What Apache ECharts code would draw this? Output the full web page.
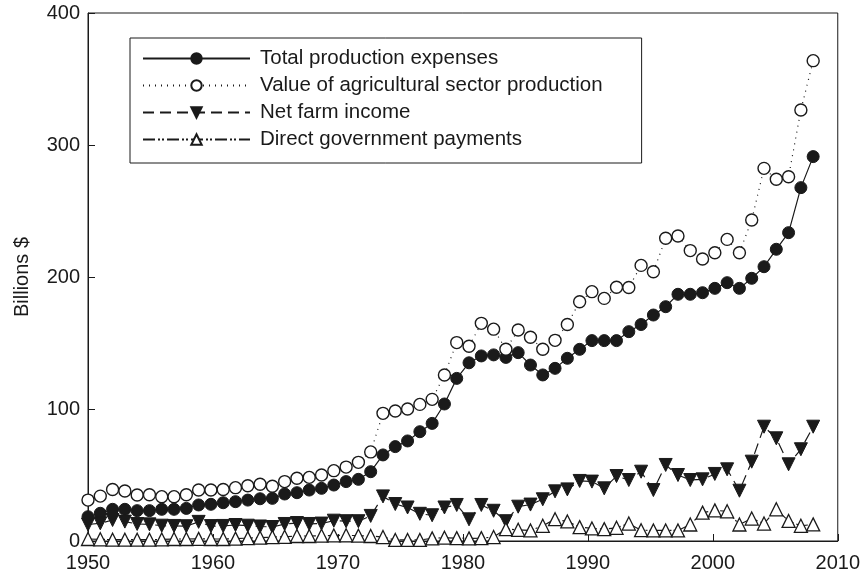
<!DOCTYPE html>
<html>
<head>
<meta charset="utf-8">
<script src="https://cdn.jsdelivr.net/npm/echarts@6/dist/echarts.min.js"></script>
<style>
  html, body { margin: 0; padding: 0; background: #fff; }
  #chart { width: 863px; height: 575px; }
</style>
</head>
<body>
<div id="chart"></div>
<script>
// years plotted (first point sits on the left axis)
const years = [
  1949, 1950, 1951, 1952, 1953, 1954, 1955, 1956, 1957, 1958,
  1959, 1960, 1961, 1962, 1963, 1964, 1965, 1966, 1967, 1968,
  1969, 1970, 1971, 1972, 1973, 1974, 1975, 1976, 1977, 1978,
  1979, 1980, 1981, 1982, 1983, 1984, 1985, 1986, 1987, 1988,
  1989, 1990, 1991, 1992, 1993, 1994, 1995, 1996, 1997, 1998,
  1999, 2000, 2001, 2002, 2003, 2004, 2005, 2006, 2007, 2008
];

// billions of dollars
const expenses = [
  18.4, 21.0, 24.0, 24.0, 23.0, 23.0, 24.0, 24.0, 24.7, 27.3,
  27.8, 29.0, 29.8, 31.0, 32.0, 32.3, 35.6, 36.6, 38.6, 39.9,
  42.4, 45.0, 46.7, 52.5, 65.2, 71.5, 75.8, 82.8, 89.1, 103.8,
  123.2, 135.0, 140.2, 141.0, 139.1, 142.7, 133.3, 125.8, 130.8, 138.4,
  145.2, 151.8, 151.8, 151.8, 158.6, 164.0, 171.2, 177.5, 186.9, 186.9,
  188.1, 191.4, 195.7, 191.4, 199.0, 207.8, 221.0, 233.6, 267.7, 291.2
];

const production = [
  31.0, 34.0, 39.0, 37.9, 34.8, 35.0, 33.6, 33.6, 35.0, 38.6,
  38.6, 39.0, 40.4, 41.9, 43.0, 41.5, 45.0, 47.5, 48.2, 50.0,
  53.3, 56.0, 59.6, 67.5, 96.7, 98.5, 100.0, 103.5, 107.3, 125.8,
  150.3, 147.5, 164.9, 160.5, 145.3, 159.8, 154.3, 145.3, 152.0, 164.0,
  181.3, 188.9, 183.8, 192.2, 192.0, 208.8, 204.0, 229.3, 231.1, 220.0,
  213.6, 218.4, 228.5, 218.4, 243.2, 282.3, 274.0, 276.0, 326.5, 363.9
];

const netIncome = [
  12.5, 13.4, 15.9, 14.7, 12.9, 12.6, 11.6, 11.4, 11.2, 14.5,
  11.3, 11.4, 12.1, 11.6, 11.0, 10.6, 12.9, 13.6, 12.9, 13.2,
  15.4, 15.0, 15.0, 19.0, 33.8, 28.0, 25.4, 20.6, 19.5, 25.4,
  27.3, 16.4, 27.3, 22.9, 15.0, 26.0, 27.6, 31.6, 37.6, 39.1,
  45.5, 45.0, 39.9, 49.2, 46.2, 52.5, 38.6, 57.6, 50.0, 46.2,
  46.7, 50.8, 54.3, 38.1, 60.1, 86.6, 77.8, 58.1, 69.5, 86.6
];

const govPayments = [
  1.5, 1.3, 1.0, 1.0, 1.0, 1.0, 1.2, 1.5, 1.5, 1.6,
  1.5, 1.5, 1.8, 2.2, 2.5, 3.0, 3.2, 3.8, 3.8, 4.0,
  4.2, 4.3, 4.0, 3.8, 3.0, 0.8, 0.8, 0.8, 2.0, 2.5,
  2.2, 2.0, 2.2, 3.0, 9.0, 8.5, 8.0, 11.5, 16.5, 14.8,
  10.5, 9.5, 9.0, 10.0, 13.2, 8.2, 8.0, 8.0, 8.0, 12.5,
  21.5, 23.2, 22.5, 12.5, 17.0, 13.2, 24.0, 15.2, 11.5, 12.6
];

const seriesNames = [
  'Total production expenses',
  'Value of agricultural sector production',
  'Net farm income',
  'Direct government payments'
];

const font = 'Liberation Sans, Arial, Helvetica, sans-serif';
const ink = '#1a1a1a';

function pairs(vals) {
  return years.map((y, i) => [y, vals[i]]);
}

let chart = echarts.init(document.getElementById('chart'), null, { renderer: 'canvas' });

let options = {
  backgroundColor: '#ffffff',
  animation: false,
  textStyle: { fontFamily: font, color: ink },
  grid: {
    left: 88, right: 25, top: 13, bottom: 34,
    show: true, borderColor: ink, borderWidth: 1
  },
  legend: {
    data: seriesNames,
    orient: 'vertical',
    left: 130, top: 38,
    itemWidth: 107, itemHeight: 13, itemGap: 6,
    padding: [10, 39, 13, 12],
    borderColor: ink, borderWidth: 1,
    backgroundColor: '#fff',
    textStyle: { fontFamily: font, fontSize: 20.5, color: ink, padding: [0, 0, 0, 5] }
  },
  xAxis: [
    {
      // scale the points are placed on (the source plots 1949 on the frame)
      type: 'value',
      min: 1949, max: 2010,
      show: false
    },
    {
      // printed year axis
      type: 'value',
      min: 1950, max: 2010, interval: 10,
      position: 'bottom',
      axisLine: { show: true, lineStyle: { color: ink, width: 1 } },
      axisTick: { show: true, inside: true, length: 7, lineStyle: { color: ink } },
      axisLabel: {
        fontSize: 20, color: ink, margin: 12, fontFamily: font,
        formatter: (v) => String(v)
      },
      splitLine: { show: false }
    }
  ],
  yAxis: {
    type: 'value',
    min: 0, max: 400, interval: 100,
    name: 'Billions $',
    nameLocation: 'middle',
    nameGap: 56,
    nameTextStyle: { fontSize: 20, color: ink, fontFamily: font },
    axisLine: { show: true, lineStyle: { color: ink, width: 1 } },
    axisTick: { show: true, inside: true, length: 7, lineStyle: { color: ink } },
    axisLabel: { fontSize: 20, color: ink, margin: 8, fontFamily: font },
    splitLine: { show: false }
  },
  series: [
    {
      name: seriesNames[0],
      type: 'line',
      xAxisIndex: 0,
      data: pairs(expenses),
      symbol: 'circle', symbolSize: 12,
      lineStyle: { color: ink, width: 1.2, type: 'solid' },
      itemStyle: { color: ink, borderColor: ink, borderWidth: 1 }
    },
    {
      name: seriesNames[1],
      type: 'line',
      xAxisIndex: 0,
      data: pairs(production),
      symbol: 'circle', symbolSize: 12,
      lineStyle: { color: ink, width: 1.2, type: [1, 5] },
      itemStyle: { color: '#fff', borderColor: ink, borderWidth: 1.4 }
    },
    {
      name: seriesNames[2],
      type: 'line',
      xAxisIndex: 0,
      data: pairs(netIncome),
      symbol: 'triangle', symbolSize: 13, symbolRotate: 180,
      lineStyle: { color: ink, width: 1.2, type: [11, 6] },
      itemStyle: { color: ink, borderColor: ink, borderWidth: 1 }
    },
    {
      name: seriesNames[3],
      type: 'line',
      xAxisIndex: 0,
      data: pairs(govPayments),
      symbol: 'triangle', symbolSize: 13,
      lineStyle: { color: ink, width: 1.2, type: [12, 3, 2, 2, 2, 3] },
      itemStyle: { color: '#fff', borderColor: ink, borderWidth: 1.3 }
    }
  ]
};

chart.setOption(options);
</script>
</body>
</html>
